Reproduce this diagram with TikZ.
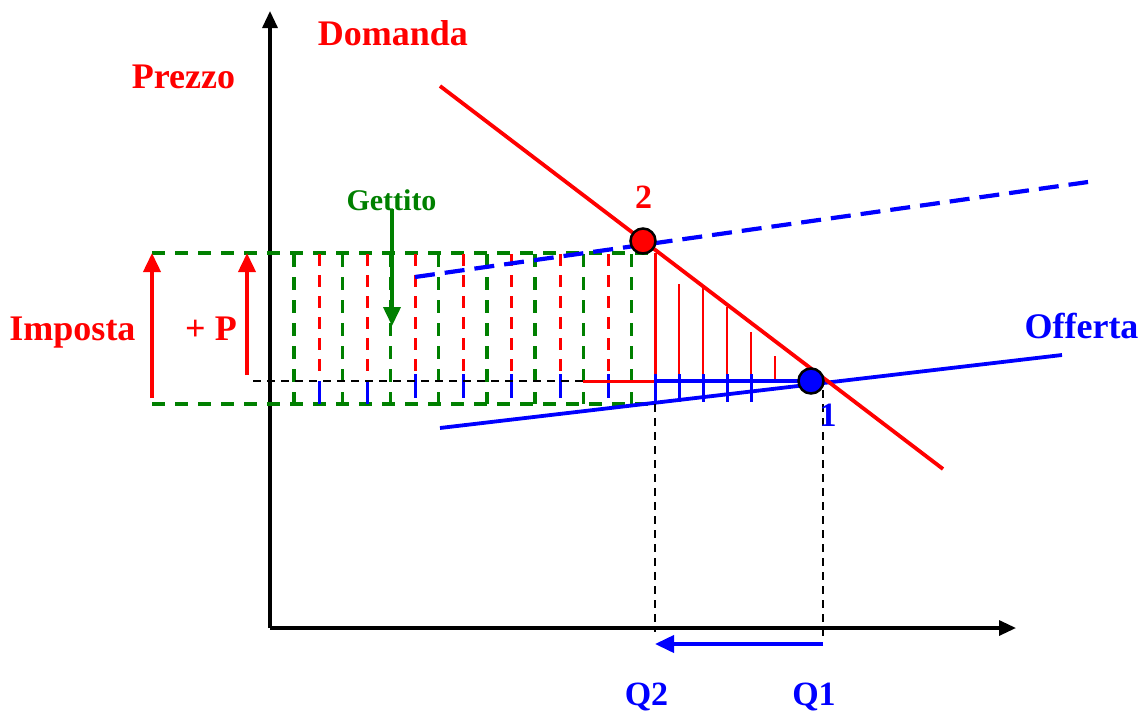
\documentclass[tikz,border=0pt]{standalone}
\usepackage{fontspec}
\setmainfont{Liberation Serif}
\usetikzlibrary{arrows.meta}
\definecolor{pred}{RGB}{255,0,0}
\definecolor{pblue}{RGB}{0,0,255}
\definecolor{pgreen}{RGB}{0,128,0}
\tikzset{
  lbl/.style={font=\bfseries\fontsize{36}{40}\selectfont, anchor=base, inner sep=0},
  lblsm/.style={font=\bfseries\fontsize{34}{38}\selectfont, anchor=base, inner sep=0},
  axis/.style={line width=3.2pt, -{Triangle[length=17pt,width=15pt]}},
  curve/.style={line width=3.8pt},
  gdash/.style={pgreen, line width=3.4pt, dash pattern=on 13pt off 10pt},
  rdash/.style={pred, line width=3pt, dash pattern=on 12pt off 9pt},
  bdash/.style={pblue, line width=4.2pt, dash pattern=on 20pt off 10pt},
  kdash/.style={black, line width=2.6pt, dash pattern=on 8pt off 6pt},
  hatch/.style={line width=3pt},
  bigarrow/.style={line width=3.8pt, -{Triangle[length=19pt,width=17pt]}},
  dot/.style={circle, draw=black, line width=2.5pt, minimum size=25pt, inner sep=0},
}
\begin{document}
\begin{tikzpicture}[x=1pt,y=-1pt]
\useasboundingbox (0,0) rectangle (1141,713);
% axes
\coordinate (O) at (270,628);
\coordinate (ytop) at (270,11);
\coordinate (xend) at (1016,628);
\draw[axis] (O) -- (ytop);
\draw[axis] (O) -- (xend);

% green dashed rectangle (gettito)
\coordinate (gTL) at (152,253);
\coordinate (gTR) at (655,253);
\coordinate (gBL) at (152,404);
\coordinate (gBR) at (655,404);
\draw[gdash] (gTL) -- (gTR);
\draw[gdash] (gBL) -- (gBR);

% hatch in gettito area
\foreach \k in {0,...,7}{
  \pgfmathsetmacro{\xx}{294+48.2*\k}
  \draw[gdash] (\xx,254) -- (\xx,404);
}
\foreach \k in {0,...,6}{
  \pgfmathsetmacro{\xx}{319+48.2*\k}
  \draw[rdash] (\xx,254) -- (\xx,373);
}
\foreach \xx in {319,367}{
  \draw[pblue,hatch] (\xx,381) -- (\xx,404);
}
\foreach \k in {2,...,6}{
  \pgfmathsetmacro{\xx}{319+48.2*\k}
  \draw[pblue,hatch] (\xx,374) -- (\xx,398);
}

% black dashed price line
\coordinate (kL) at (253,381);
\coordinate (kR) at (583,381);
\draw[kdash] (kL) -- (kR);
\coordinate (rH) at (655,381);
\draw[pred,hatch] (kR) -- (rH);

% deadweight triangle hatch
\coordinate (rTop) at (655,253);
\draw[pred,hatch] (rTop) -- (rH);
\foreach \xx/\yy in {679/284,703/285,727/307,751/332,775/356}{
  \draw[pred,line width=2.6pt] (\xx,\yy) -- (\xx,381);
}
\foreach \xx in {655,679,703,727,751}{
  \draw[pblue,hatch] (\xx,374) -- (\xx,402);
}

% supply curves
\coordinate (sA) at (440,428);
\coordinate (sB) at (1062,355);
\draw[pblue,curve] (sA) -- (sB);
\coordinate (tA) at (415,277);
\coordinate (tB) at (1088,182);
\draw[bdash] (tA) -- (tB);

% demand
\coordinate (dA) at (440,86);
\coordinate (dB) at (943,469);
\draw[pred,curve] (dA) -- (dB);

% blue horizontal
\coordinate (p1) at (811,381);
\draw[pblue,line width=3.2pt] (rH) -- (p1);

% black dashed verticals
\coordinate (q2t) at (655,404);
\coordinate (q2b) at (655,632);
\coordinate (q1t) at (823,390);
\coordinate (q1b) at (823,636);
\draw[kdash] (q2t) -- (q2b);
\draw[kdash] (q1t) -- (q1b);

% quantity arrow
\coordinate (aQ1) at (823,644);
\coordinate (aQ2) at (655,644);
\draw[pblue,bigarrow] (aQ1) -- (aQ2);

% red arrows
\coordinate (iB) at (152,398);
\coordinate (iT) at (152,253);
\draw[pred,bigarrow] (iB) -- (iT);
\coordinate (pB) at (247,375);
\coordinate (pT) at (247,253);
\draw[pred,bigarrow] (pB) -- (pT);

% gettito arrow
\coordinate (gA) at (392,209);
\coordinate (gB) at (392,326);
\draw[pgreen,bigarrow] (gA) -- (gB);

% points
\node[dot, fill=pred] (P2) at (643,241) {};
\node[dot, fill=pblue] (P1) at (811,381) {};

% labels
\node[lbl, pred] (domanda) at (393,45) {Domanda};
\node[lbl, pred] (prezzo) at (183.5,88) {Prezzo};
\node[font=\bfseries\fontsize{30}{34}\selectfont, anchor=base, inner sep=0, pgreen] (gettito) at (391.5,210) {Gettito};
\node[lblsm, pred] (l2) at (643.5,208) {2};
\node[lblsm, pblue] (l1) at (828,426) {1};
\node[lbl, pred] (imposta) at (72.5,340) {Imposta};
\node[lbl, pred] (plusp) at (211,340) {+ P};
\node[lbl, pblue] (offerta) at (1081.5,338) {Offerta};
\node[lblsm, pblue] (q2) at (646.5,705) {Q2};
\node[lblsm, pblue] (q1) at (814,705) {Q1};
\end{tikzpicture}
\end{document}
